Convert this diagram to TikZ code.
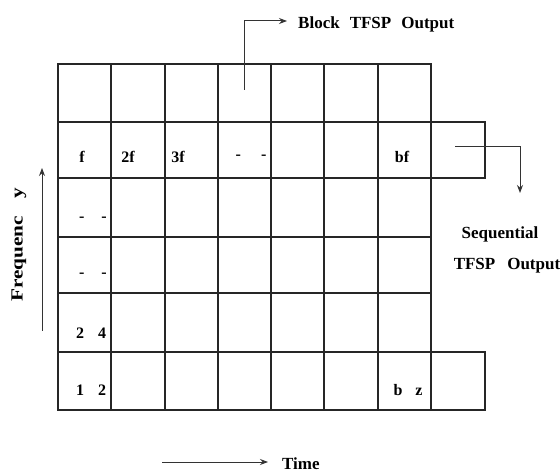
\documentclass[tikz,border=0pt]{standalone}
\usepackage{fontspec}
\setmainfont{Liberation Serif}
\usetikzlibrary{arrows.meta}
\begin{document}
\begin{tikzpicture}[x=1pt,y=-1pt,
  gridline/.style={line width=1.5pt, draw=black!85, line cap=rect},
  arr/.style={line width=1pt, draw=black!80, -{Stealth[length=8pt,width=6pt]}},
  lbl/.style={font=\fontsize{17}{20}\selectfont\bfseries, inner sep=0pt},
  cell/.style={font=\fontsize{16}{19}\selectfont\bfseries, inner sep=0pt}]
\useasboundingbox[fill=white] (0,0) rectangle (560,473);
% grid
\foreach \y in {64,122,178,237,293,352,410}
  \draw[gridline] (58,\y) -- (431,\y);
\foreach \x in {58,111,165,218,271,324,378,431}
  \draw[gridline] (\x,64) -- (\x,410);
\draw[gridline] (431,122) -- (485,122) -- (485,178) -- (431,178);
\draw[gridline] (431,352) -- (485,352) -- (485,410) -- (431,410);
% cell texts
\node[cell] (f)  at (82,157)  {f};
\node[cell] (f2) at (128,157) {2f};
\node[cell] (f3) at (178,157) {3f};
\node[cell] (dd1) at (251,157) {-\hspace{20pt}-};
\node[cell] (bf) at (402,157) {bf};
\node[cell] (dd2) at (93,219) {-\hspace{17pt}-};
\node[cell] (dd3) at (93,275) {-\hspace{17pt}-};
\node[cell] (r5) at (91,333) {2\hspace{14pt}4};
\node[cell] (r6) at (91,390) {1\hspace{14pt}2};
\node[cell] (bz) at (408,390) {b\hspace{13pt}z};
% labels
\node[lbl, anchor=base west] (blk) at (298,29) {Block\hspace{10pt}TFSP\hspace{10pt}Output};
\node[lbl] (seq) at (500,234) {Sequential};
\node[lbl] (seqo) at (507,266) {TFSP\hspace{12pt}Output};
\node[lbl, rotate=90] (freq) at (19,245) {\scalebox{1.25}[1]{Frequenc\hspace{14pt}y}};
\node[lbl, anchor=west] (time) at (282,464) {Time};
% connectors
\coordinate (bstart) at (244,90);
\draw[arr] (bstart) |- ([shift={(-11pt,8pt)}]blk.base west);
\coordinate (sstart) at (455,147);
\coordinate (stip) at (520,193);
\draw[arr] (sstart) -| (stip);
\coordinate (fstart) at (42,331);
\coordinate (ftip) at (42,168);
\draw[arr] (fstart) -- (ftip);
\coordinate (tstart) at (162,462);
\draw[arr] (tstart) -- ([xshift=-14pt,yshift=2pt]time.west);
\end{tikzpicture}
\end{document}
